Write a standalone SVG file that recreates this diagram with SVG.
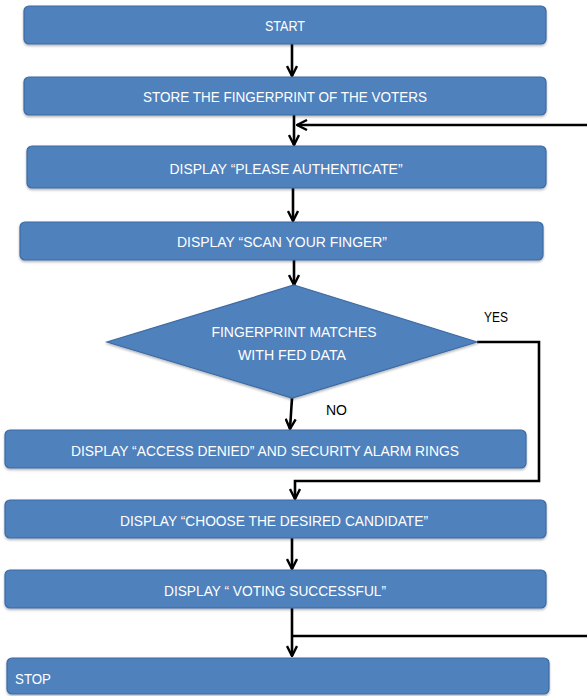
<svg xmlns="http://www.w3.org/2000/svg" width="587" height="696" viewBox="0 0 587 696">
<style>
.box{fill:#4f81bd;stroke:#3d6aa3;stroke-width:1.2}
.lbl{fill:#ffffff;font-family:"Liberation Sans",Arial,sans-serif;font-size:15px}
.blk{fill:#000000;font-family:"Liberation Sans",Arial,sans-serif;font-size:15px}
.ln{fill:none;stroke:#000000;stroke-width:2.6}
</style>
<defs>
<filter id="sh" x="-5%" y="-20%" width="110%" height="150%">
<feDropShadow dx="0" dy="1.5" stdDeviation="1.2" flood-color="#000000" flood-opacity="0.3"/>
</filter>
<marker id="arr" viewBox="0 0 12 12" refX="11" refY="6" markerWidth="12" markerHeight="12" markerUnits="userSpaceOnUse" orient="auto">
<path d="M1,1 L11,6 L1,11" fill="none" stroke="#000000" stroke-width="2.4"/>
</marker>
</defs>
<g id="connectors">
<line class="ln" x1="292" y1="44" x2="292" y2="76" marker-end="url(#arr)"/>
<line class="ln" x1="294" y1="115" x2="294" y2="145" marker-end="url(#arr)"/>
<line class="ln" x1="587" y1="125" x2="297" y2="125" marker-end="url(#arr)"/>
<line class="ln" x1="293" y1="188" x2="293" y2="221" marker-end="url(#arr)"/>
<line class="ln" x1="294" y1="260" x2="294" y2="285" marker-end="url(#arr)"/>
<line class="ln" x1="292" y1="398" x2="290" y2="429" marker-end="url(#arr)"/>
<polyline class="ln" points="477,342 539,342 539,481 295,481 295,499" marker-end="url(#arr)"/>
<line class="ln" x1="292" y1="538" x2="292" y2="569" marker-end="url(#arr)"/>
<line class="ln" x1="292" y1="608" x2="292" y2="656" marker-end="url(#arr)"/>
<line class="ln" x1="292" y1="636" x2="587" y2="636"/>
</g>
<g id="start">
<rect class="box" filter="url(#sh)" x="24" y="6" width="522" height="38" rx="5"/>
<text class="lbl" x="285" y="31" text-anchor="middle" textLength="40" lengthAdjust="spacingAndGlyphs">START</text>
</g>
<g id="store">
<rect class="box" filter="url(#sh)" x="24" y="77" width="522" height="38" rx="5"/>
<text class="lbl" x="285" y="102" text-anchor="middle" textLength="284" lengthAdjust="spacingAndGlyphs">STORE THE FINGERPRINT OF THE VOTERS</text>
</g>
<g id="authenticate">
<rect class="box" filter="url(#sh)" x="27" y="146" width="519" height="42" rx="5"/>
<text class="lbl" x="286" y="174" text-anchor="middle" textLength="233" lengthAdjust="spacingAndGlyphs">DISPLAY “PLEASE AUTHENTICATE”</text>
</g>
<g id="scan">
<rect class="box" filter="url(#sh)" x="20" y="222" width="523" height="38" rx="5"/>
<text class="lbl" x="282" y="247" text-anchor="middle" textLength="210" lengthAdjust="spacingAndGlyphs">DISPLAY “SCAN YOUR FINGER”</text>
</g>
<g id="decision">
<polygon class="box" filter="url(#sh)" points="294,285 477,342 292,398 107,342"/>
<text class="lbl" x="294" y="337" text-anchor="middle" textLength="165" lengthAdjust="spacingAndGlyphs">FINGERPRINT MATCHES</text>
<text class="lbl" x="292" y="360" text-anchor="middle" textLength="108" lengthAdjust="spacingAndGlyphs">WITH FED DATA</text>
</g>
<g id="labels">
<text class="blk" x="484" y="322" textLength="24" lengthAdjust="spacingAndGlyphs">YES</text>
<text class="blk" x="326" y="415" textLength="21" lengthAdjust="spacingAndGlyphs">NO</text>
</g>
<g id="denied">
<rect class="box" filter="url(#sh)" x="5" y="430" width="521" height="38" rx="5"/>
<text class="lbl" x="265" y="456" text-anchor="middle" textLength="388" lengthAdjust="spacingAndGlyphs">DISPLAY “ACCESS DENIED” AND SECURITY ALARM RINGS</text>
</g>
<g id="choose">
<rect class="box" filter="url(#sh)" x="5" y="500" width="541" height="38" rx="5"/>
<text class="lbl" x="274" y="526" text-anchor="middle" textLength="308" lengthAdjust="spacingAndGlyphs">DISPLAY “CHOOSE THE DESIRED CANDIDATE”</text>
</g>
<g id="success">
<rect class="box" filter="url(#sh)" x="5" y="570" width="541" height="38" rx="5"/>
<text class="lbl" x="275" y="596" text-anchor="middle" textLength="222" lengthAdjust="spacingAndGlyphs">DISPLAY “ VOTING SUCCESSFUL”</text>
</g>
<g id="stop">
<rect class="box" filter="url(#sh)" x="7" y="658" width="542" height="36" rx="5"/>
<text class="lbl" x="15" y="684" textLength="36" lengthAdjust="spacingAndGlyphs">STOP</text>
</g>
</svg>
